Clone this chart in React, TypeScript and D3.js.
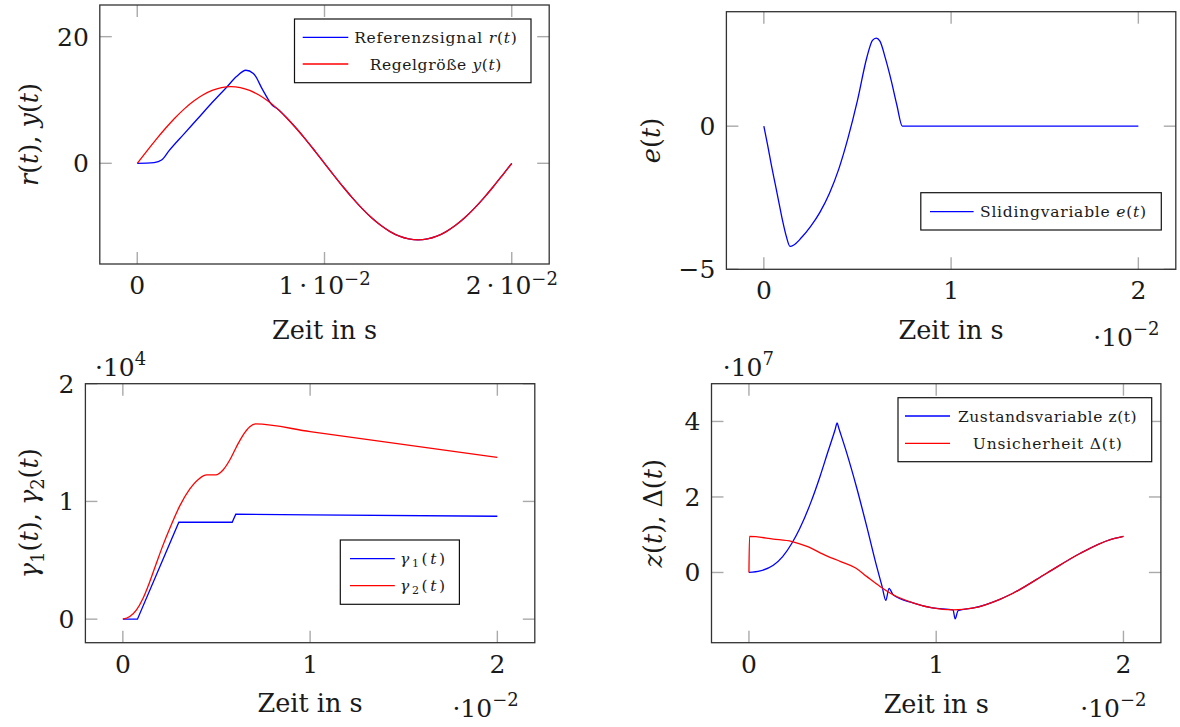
import * as d3 from 'd3'
import type { ReactNode } from 'react'

const FONT = '"DejaVu Serif", "Liberation Serif", serif'
const BLUE = '#0000ff'
const RED = '#ff0000'

// Oben links: Zeit in s
const refHeadT = [0, 0.0005, 0.0009, 0.0013, 0.0017, 0.0025, 0.0032, 0.004, 0.0048, 0.0053, 0.0058, 0.0062, 0.0067, 0.0072]
const refHeadV = [0, 0.02, 0.1, 0.52, 2.0, 4.65, 6.95, 9.6, 12.1, 13.7, 14.7, 14.2, 11.6, 9.2]
const outT = [
  0, 0.0005, 0.001, 0.0015, 0.002, 0.0025, 0.003, 0.0035, 0.004, 0.0045, 0.005, 0.0055, 0.006, 0.0065, 0.007, 0.0075,
  0.008, 0.0085, 0.009, 0.0095, 0.01, 0.0105, 0.011, 0.0115, 0.012, 0.0125, 0.013, 0.0135, 0.014, 0.0145, 0.015,
  0.0155, 0.016, 0.0165, 0.017, 0.0175, 0.018, 0.0185, 0.019, 0.0195, 0.02,
]
const outV = [
  0, 1.89, 3.74, 5.49, 7.11, 8.56, 9.79, 10.78, 11.51, 11.95, 12.1, 11.95, 11.51, 10.78, 9.79, 8.56, 7.11, 5.49, 3.74,
  1.89, 0, -1.89, -3.74, -5.49, -7.11, -8.56, -9.79, -10.78, -11.51, -11.95, -12.1, -11.95, -11.51, -10.78, -9.79,
  -8.56, -7.11, -5.49, -3.74, -1.89, 0,
]

// Oben rechts: Zeit in 1e-2 s
const eT = [0, 0.02, 0.04, 0.06, 0.08, 0.1, 0.12, 0.14, 0.16, 0.2, 0.25, 0.3, 0.35, 0.4, 0.45, 0.5, 0.55, 0.58, 0.6, 0.62, 0.65, 0.68, 0.71, 0.74, 2.0]
const eV = [0, -0.65, -1.35, -2.0, -2.65, -3.3, -3.85, -4.2, -4.15, -3.9, -3.5, -3.0, -2.35, -1.5, -0.4, 0.9, 2.4, 3.0, 3.08, 2.97, 2.35, 1.6, 0.75, 0.0, 0.0]

// Unten links: gamma in 1e4
const g1T = [0, 0.078, 0.299, 0.584, 0.603, 1.0, 2.0]
const g1V = [0, 0, 0.823, 0.823, 0.891, 0.886, 0.874]
const g2T = [0, 0.037, 0.073, 0.108, 0.144, 0.179, 0.215, 0.251, 0.304, 0.357, 0.411, 0.447, 0.496, 0.535, 0.571, 0.607, 0.642, 0.678, 0.708, 1.0, 2.0]
const g2V = [0, 0.022, 0.079, 0.178, 0.319, 0.475, 0.631, 0.772, 0.962, 1.104, 1.197, 1.225, 1.225, 1.267, 1.352, 1.465, 1.564, 1.635, 1.658, 1.593, 1.374]

// Unten rechts: z und Delta in 1e7
const zT = [0, 0.06, 0.13, 0.18, 0.23, 0.27, 0.33, 0.38, 0.42, 0.46, 0.471, 0.48, 0.52, 0.575, 0.63, 0.68, 0.711, 0.731, 0.748, 0.77, 0.88, 0.98, 1.09, 1.101, 1.117, 1.2, 1.34, 1.41, 1.59, 1.77, 1.93, 2.0]
const zV = [0, 0.04, 0.19, 0.42, 0.78, 1.15, 1.85, 2.55, 3.17, 3.78, 3.96, 3.82, 3.2, 2.25, 1.2, 0.2, -0.37, -0.74, -0.42, -0.59, -0.81, -0.94, -0.99, -1.23, -1.01, -0.94, -0.71, -0.55, -0.02, 0.51, 0.87, 0.955]
const dT = [0, 0.003, 0.13, 0.23, 0.31, 0.415, 0.49, 0.57, 0.63, 0.7, 0.77, 0.88, 0.98, 1.09, 1.2, 1.34, 1.41, 1.59, 1.77, 1.93, 2.0]
const dV = [0, 0.955, 0.885, 0.82, 0.69, 0.44, 0.29, 0.12, -0.11, -0.37, -0.59, -0.81, -0.94, -0.99, -0.94, -0.71, -0.55, -0.02, 0.51, 0.87, 0.955]

const xTicks1 = [0, 0.01, 0.02]
const yTicks1 = [0, 20]
const xTicksN = [0, 1, 2]
const yTicks2 = [-5, 0]
const yTicks3 = [0, 1, 2]
const yTicks4 = [0, 2, 4]

type Series = { t: number[]; v: number[]; color: string; curve: d3.CurveFactory }
type LegendItem = { color: string; label: ReactNode; width: number }
type Legend = { x: number; y: number; w: number; h: number; rows: number[]; lineX: [number, number]; textX: number; items: LegendItem[] }

const it = (s: string) => <tspan fontStyle="italic">{s}</tspan>
const TICK_FS = 25
const LABEL_FS = 25.5

function Panel(p: {
  frame: { x: number; y: number; w: number; h: number }
  xDomain: [number, number]
  yDomain: [number, number]
  xTicks: number[]
  yTicks: number[]
  xTickLabel: (d: number) => ReactNode
  series: Series[]
  legend: Legend
  yLabel: ReactNode
  yLabelX: number
  xLabelDy: number
  xExp?: { x: number; y: number }
  yExp?: { x: number; y: number; pow: string }
}) {
  const { x, y, w, h } = p.frame
  const sx = d3.scaleLinear().domain(p.xDomain).range([x, x + w])
  const sy = d3.scaleLinear().domain(p.yDomain).range([y + h, y])
  const tl = 12
  const lg = p.legend
  return (
    <g fontFamily={FONT}>
      {p.xTicks.map((d) => (
        <g key={'xt' + d} stroke="#aaa" strokeWidth={1.4}>
          <line x1={sx(d)} x2={sx(d)} y1={y} y2={y + tl} />
          <line x1={sx(d)} x2={sx(d)} y1={y + h} y2={y + h - tl} />
        </g>
      ))}
      {p.yTicks.map((d) => (
        <g key={'yt' + d} stroke="#aaa" strokeWidth={1.4}>
          <line x1={x} x2={x + tl} y1={sy(d)} y2={sy(d)} />
          <line x1={x + w} x2={x + w - tl} y1={sy(d)} y2={sy(d)} />
        </g>
      ))}
      {p.series.map((s, i) => {
        const pts = s.t.map((t, k) => [t, s.v[k]] as [number, number])
        const line = d3
          .line<[number, number]>()
          .x((d) => sx(d[0]))
          .y((d) => sy(d[1]))
          .curve(s.curve)
        return <path key={i} d={line(pts) ?? ''} fill="none" stroke={s.color} strokeWidth={1.3} />
      })}
      <rect x={lg.x} y={lg.y} width={lg.w} height={lg.h} fill="#fff" stroke="#111" strokeWidth={1.2} />
      {lg.items.map((item, i) => (
        <g key={i}>
          <line x1={lg.lineX[0]} x2={lg.lineX[1]} y1={lg.rows[i]} y2={lg.rows[i]} stroke={item.color} strokeWidth={1.3} />
          <text
            x={lg.textX}
            y={lg.rows[i] + 5.5}
            fontSize={15.5}
            textAnchor="middle"
            textLength={item.width}
            lengthAdjust="spacing"
            fill="#1a1a1a"
          >
            {item.label}
          </text>
        </g>
      ))}
      <rect x={x} y={y} width={w} height={h} fill="none" stroke="#333" strokeWidth={1.3} />
      {p.xTicks.map((d) => (
        <text key={'xl' + d} x={sx(d)} y={y + h + 30} fontSize={TICK_FS} textAnchor="middle" fill="#1a1a1a">
          {p.xTickLabel(d)}
        </text>
      ))}
      {p.yTicks.map((d) => (
        <text key={'yl' + d} x={x - 11} y={sy(d) + 9} fontSize={TICK_FS} textAnchor="end" fill="#1a1a1a">
          {d < 0 ? '\u2212' + Math.abs(d) : d}
        </text>
      ))}
      <text x={x + w / 2} y={y + h + p.xLabelDy} fontSize={LABEL_FS} textAnchor="middle" fill="#1a1a1a">
        Zeit in s
      </text>
      <text
        transform={`translate(${p.yLabelX},${y + h / 2}) rotate(-90)`}
        dy="0.3em"
        fontSize={LABEL_FS}
        textAnchor="middle"
        fill="#1a1a1a"
      >
        {p.yLabel}
      </text>
      {p.xExp && (
        <text x={p.xExp.x} y={p.xExp.y} fontSize={TICK_FS} textAnchor="end" fill="#1a1a1a">
          ·10
          <tspan fontSize={18} dy={-11}>
            {'\u22122'}
          </tspan>
        </text>
      )}
      {p.yExp && (
        <text x={p.yExp.x} y={p.yExp.y} fontSize={TICK_FS} fill="#1a1a1a">
          ·10
          <tspan fontSize={18} dy={-11}>
            {p.yExp.pow}
          </tspan>
        </text>
      )}
    </g>
  )
}

const sci = (d: number) =>
  d === 0 ? (
    '0'
  ) : (
    <>
      {Math.round(d * 100)}
      {'\u2009·\u2009'}10
      <tspan fontSize={18} dy={-9}>
        {'\u22122'}
      </tspan>
    </>
  )

export default function App() {
  const refT = [...refHeadT, ...outT.filter((t) => t > 0.0073)]
  const refV = [...refHeadV, ...outV.filter((_, i) => outT[i] > 0.0073)]
  return (
    <svg width={1180} height={727} style={{ position: 'absolute', left: 0, top: 0, background: '#fff' }}>
      <Panel
        frame={{ x: 99.8, y: 5, w: 449.4, h: 259 }}
        xDomain={[-0.002, 0.022]}
        yDomain={[-15.9, 25]}
        xTicks={xTicks1}
        yTicks={yTicks1}
        xTickLabel={sci}
        series={[
          { t: refT, v: refV, color: BLUE, curve: d3.curveMonotoneX },
          { t: outT, v: outV, color: RED, curve: d3.curveMonotoneX },
        ]}
        legend={{
          x: 294.5,
          y: 19,
          w: 236.5,
          h: 63.7,
          rows: [37.3, 64],
          lineX: [302.7, 348.3],
          textX: 435.5,
          items: [
            { color: BLUE, width: 162.7, label: <>Referenzsignal {it('r')}({it('t')})</> },
            { color: RED, width: 131.7, label: <>Regelgröße {it('y')}({it('t')})</> },
          ],
        }}
        yLabel={<>{it('r')}({it('t')}), {it('y')}({it('t')})</>}
        yLabelX={30.5}
        xLabelDy={75}
      />
      <Panel
        frame={{ x: 726.4, y: 11.7, w: 449.4, h: 257.6 }}
        xDomain={[-0.2, 2.2]}
        yDomain={[-5, 4]}
        xTicks={xTicksN}
        yTicks={yTicks2}
        xTickLabel={(d) => String(d)}
        series={[{ t: eT, v: eV, color: BLUE, curve: d3.curveMonotoneX }]}
        legend={{
          x: 920.8,
          y: 192.7,
          w: 240.5,
          h: 37.3,
          rows: [211.7],
          lineX: [930, 973.6],
          textX: 1063,
          items: [{ color: BLUE, width: 166, label: <>Slidingvariable {it('e')}({it('t')})</> }],
        }}
        yLabel={<>{it('e')}({it('t')})</>}
        yLabelX={652}
        xLabelDy={69.5}
        xExp={{ x: 1159.5, y: 346 }}
      />
      <Panel
        frame={{ x: 85.4, y: 383.7, w: 449.4, h: 259 }}
        xDomain={[-0.2, 2.2]}
        yDomain={[-0.2, 2.0]}
        xTicks={xTicksN}
        yTicks={yTicks3}
        xTickLabel={(d) => String(d)}
        series={[
          { t: g1T, v: g1V, color: BLUE, curve: d3.curveLinear },
          { t: g2T, v: g2V, color: RED, curve: d3.curveMonotoneX },
        ]}
        legend={{
          x: 340.3,
          y: 540,
          w: 119.1,
          h: 64.3,
          rows: [558.7, 585.7],
          lineX: [350, 394.8],
          textX: 422.6,
          items: [
            {
              color: BLUE,
              width: 45,
              label: (
                <>
                  {it('γ')}
                  <tspan fontSize={11} dy={3}>1</tspan>
                  <tspan dy={-3}>(</tspan>
                  {it('t')})
                </>
              ),
            },
            {
              color: RED,
              width: 45,
              label: (
                <>
                  {it('γ')}
                  <tspan fontSize={11} dy={3}>2</tspan>
                  <tspan dy={-3}>(</tspan>
                  {it('t')})
                </>
              ),
            },
          ],
        }}
        yLabel={
          <>
            {it('γ')}
            <tspan fontSize={18} dy={6}>1</tspan>
            <tspan dy={-6}>(</tspan>
            {it('t')}), {it('γ')}
            <tspan fontSize={18} dy={6}>2</tspan>
            <tspan dy={-6}>(</tspan>
            {it('t')})
          </>
        }
        yLabelX={30.5}
        xLabelDy={69}
        xExp={{ x: 518.7, y: 717 }}
        yExp={{ x: 95, y: 376, pow: '4' }}
      />
      <Panel
        frame={{ x: 711.5, y: 383.7, w: 449.4, h: 259 }}
        xDomain={[-0.2, 2.2]}
        yDomain={[-1.86, 5.0]}
        xTicks={xTicksN}
        yTicks={yTicks4}
        xTickLabel={(d) => String(d)}
        series={[
          { t: zT, v: zV, color: BLUE, curve: d3.curveMonotoneX },
          { t: dT, v: dV, color: RED, curve: d3.curveMonotoneX },
        ]}
        legend={{
          x: 898,
          y: 397.7,
          w: 253.7,
          h: 64,
          rows: [416, 443.3],
          lineX: [905, 950],
          textX: 1047.3,
          items: [
            { color: BLUE, width: 178.7, label: 'Zustandsvariable z(t)' },
            { color: RED, width: 149, label: 'Unsicherheit Δ(t)' },
          ],
        }}
        yLabel={<>{it('z')}({it('t')}), Δ({it('t')})</>}
        yLabelX={654}
        xLabelDy={70}
        xExp={{ x: 1146.5, y: 717 }}
        yExp={{ x: 722.7, y: 376, pow: '7' }}
      />
    </svg>
  )
}
